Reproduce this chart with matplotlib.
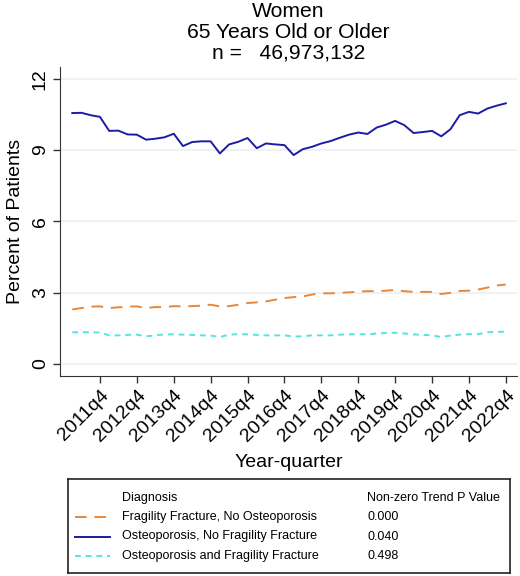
import matplotlib
matplotlib.use('Agg')
import matplotlib.pyplot as plt
from matplotlib.lines import Line2D
import numpy as np

plt.rcParams['font.family'] = ['Liberation Sans', 'DejaVu Sans']

# quarters 2011q1 .. 2022q4 (Stata quarterly numbering, 2011q1 = 204)
quarters = np.arange(204, 252)
tick_pos = np.arange(207, 252, 4)
tick_labels = [f'{y}q4' for y in range(2011, 2023)]

osteo_no_frac = [10.56, 10.57, 10.47, 10.40, 9.81, 9.82, 9.66, 9.65,
                 9.44, 9.48, 9.54, 9.69, 9.17, 9.34, 9.37, 9.37,
                 8.86, 9.24, 9.35, 9.51, 9.08, 9.28, 9.24, 9.21,
                 8.79, 9.04, 9.14, 9.28, 9.38, 9.52, 9.65, 9.74,
                 9.68, 9.95, 10.07, 10.23, 10.05, 9.72, 9.76, 9.81,
                 9.58, 9.88, 10.47, 10.61, 10.54, 10.75, 10.87, 10.97]
frac_no_osteo = [2.29, 2.35, 2.41, 2.42, 2.35, 2.38, 2.41, 2.42,
                 2.35, 2.39, 2.39, 2.43, 2.42, 2.43, 2.45, 2.49,
                 2.42, 2.43, 2.49, 2.56, 2.59, 2.63, 2.70, 2.77,
                 2.81, 2.84, 2.92, 2.97, 2.97, 2.99, 3.01, 3.04,
                 3.06, 3.06, 3.08, 3.11, 3.06, 3.03, 3.03, 3.03,
                 2.94, 2.99, 3.07, 3.08, 3.13, 3.21, 3.30, 3.34]
osteo_and_frac = [1.33, 1.33, 1.33, 1.32, 1.20, 1.20, 1.22, 1.23,
                  1.16, 1.20, 1.24, 1.24, 1.23, 1.22, 1.20, 1.19,
                  1.13, 1.23, 1.25, 1.24, 1.22, 1.20, 1.20, 1.20,
                  1.15, 1.16, 1.20, 1.20, 1.20, 1.23, 1.24, 1.25,
                  1.24, 1.28, 1.30, 1.31, 1.28, 1.24, 1.22, 1.20,
                  1.13, 1.19, 1.23, 1.25, 1.25, 1.33, 1.35, 1.35]

series_names = ['Fragility Fracture, No Osteoporosis',
                'Osteoporosis, No Fragility Fracture',
                'Osteoporosis and Fragility Fracture']
p_values = ['0.000', '0.040', '0.498']

c_orange = '#e8873a'
c_blue = '#1c1ca6'
c_cyan = '#55e3e3'
styles = [dict(color=c_orange, lw=1.4, dashes=(6, 4)),
          dict(color=c_blue, lw=1.4),
          dict(color=c_cyan, lw=1.4, dashes=(3, 2.5))]

fig = plt.figure(figsize=(5.2, 5.76), dpi=100)
ax = fig.add_axes([0.1154, 0.3477, 0.8786, 0.536])

for vals, st in zip([frac_no_osteo, osteo_no_frac, osteo_and_frac], styles):
    ax.plot(quarters, vals, **st)

ax.set_xlim(202.67, 252.2)
ax.set_ylim(-0.5, 12.5)
ax.set_yticks([0, 3, 6, 9, 12])
ax.set_yticklabels(['0', '3', '6', '9', '12'], rotation=90, va='center', fontsize=14)
ax.set_xticks(tick_pos)
ax.set_xticklabels(tick_labels, rotation=45, ha='right', rotation_mode='anchor', fontsize=14)
ax.tick_params(axis='both', direction='out', length=5, width=1, color='#333333', pad=3)
ax.grid(axis='y', color='#eceff1', lw=1.2)
ax.set_axisbelow(True)
for s in ['top', 'right']:
    ax.spines[s].set_visible(False)
for s in ['left', 'bottom']:
    ax.spines[s].set_color('#333333')
ax.set_ylabel('Percent of Patients', fontsize=14, labelpad=6)
ax.set_xlabel('Year-quarter', fontsize=14, labelpad=6)

fig.text(0.555, 0.997, 'Women\n65 Years Old or Older\nn =   46,973,132',
         ha='center', va='top', fontsize=15.2, linespacing=1.13)

# legend box
lg = fig.add_axes([68 / 520, 1 - 573 / 576, 442 / 520, 94 / 576])
lg.set_xlim(0, 442)
lg.set_ylim(94, 0)
lg.set_xticks([])
lg.set_yticks([])
for s in lg.spines.values():
    s.set_linewidth(1.2)
    s.set_color('#222222')
lg.text(54, 19, 'Diagnosis', fontsize=9, va='center')
lg.text(299, 19, 'Non-zero Trend P Value', fontsize=9, va='center')
for i, (name, p, st) in enumerate(zip(series_names, p_values, styles)):
    yy = 38 + i * 19.5
    lg.add_line(Line2D([7, 42], [yy, yy], **st))
    lg.text(54, yy, name, fontsize=9, va='center')
    lg.text(299, yy, p, fontsize=9, va='center')

fig.savefig('out.png', dpi=100)
